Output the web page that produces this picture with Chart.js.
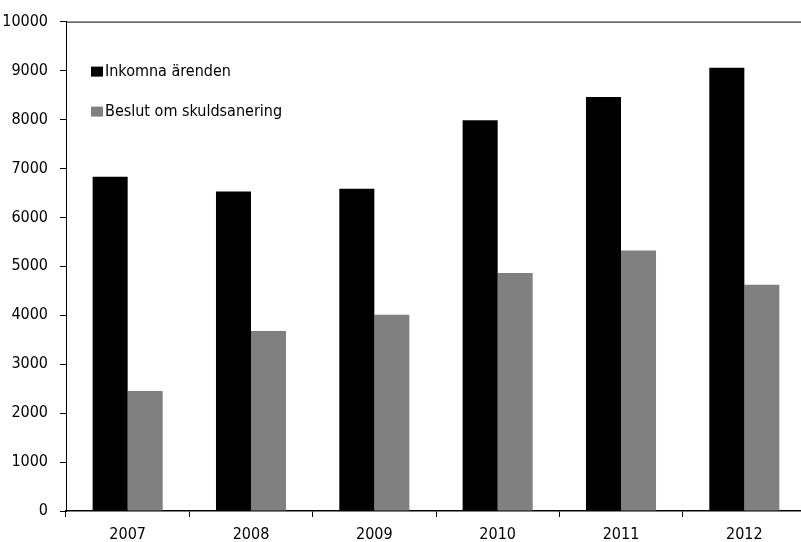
<!DOCTYPE html>
<html>
<head>
<meta charset="utf-8">
<script src="https://cdn.jsdelivr.net/npm/chart.js@4/dist/chart.umd.min.js"></script>
<style>
  html, body { margin: 0; padding: 0; background: #fff; overflow: hidden; }
  #wrap { width: 806px; height: 542px; }
</style>
</head>
<body>
<div id="wrap"><canvas id="chart" width="806" height="542"></canvas></div>
<script>
const years = ['2007', '2008', '2009', '2010', '2011', '2012'];
const inkomna = [6830, 6530, 6585, 7985, 8460, 9055];
const beslut = [2450, 3680, 4010, 4865, 5325, 4625];
const seriesNames = ['Inkomna ärenden', 'Beslut om skuldsanering'];
const seriesColors = ['#000000', '#808080'];

const FONT = '"Liberation Sans Narrow", "DejaVu Sans Condensed", "Arial Narrow", sans-serif';
Chart.defaults.font.family = FONT;
Chart.defaults.font.size = 16;
Chart.defaults.color = '#000';

// legend drawn inside the plot, top-left, stacked
const innerLegend = {
    id: 'innerLegend',
    afterDraw(chart) {
        const ctx = chart.ctx;
        const area = chart.chartArea;
        ctx.save();
        ctx.font = '16px ' + FONT;
        ctx.textBaseline = 'middle';
        chart.data.datasets.forEach((ds, i) => {
            const y = area.top + 50 + i * 40;
            ctx.fillStyle = ds.backgroundColor;
            ctx.fillRect(area.left + 25, y - 5, 12, 10);
            ctx.fillStyle = '#000';
            ctx.fillText(ds.label, area.left + 39, y);
        });
        ctx.restore();
    }
};

// top border of the plot area
const topBorder = {
    id: 'topBorder',
    afterDraw(chart) {
        const ctx = chart.ctx;
        const area = chart.chartArea;
        ctx.save();
        ctx.strokeStyle = '#000';
        ctx.lineWidth = 1;
        ctx.beginPath();
        ctx.moveTo(area.left, area.top + 0.5);
        ctx.lineTo(area.right, area.top + 0.5);
        ctx.stroke();
        ctx.restore();
    }
};

new Chart(document.getElementById('chart'), {
    type: 'bar',
    data: {
        labels: years,
        datasets: [
            { label: seriesNames[0], data: inkomna, backgroundColor: seriesColors[0] },
            { label: seriesNames[1], data: beslut, backgroundColor: seriesColors[1] }
        ]
    },
    options: {
        responsive: false,
        animation: false,
        layout: { padding: { top: 20, right: 0, left: 0, bottom: 0 } },
        datasets: {
            bar: { categoryPercentage: 0.568, barPercentage: 1.0, borderWidth: 0 }
        },
        plugins: {
            legend: { display: false },
            tooltip: { enabled: false }
        },
        scales: {
            x: {
                grid: {
                    display: true, drawOnChartArea: false, drawTicks: true,
                    tickLength: 6, color: '#000', offset: true
                },
                border: { display: true, color: '#000', width: 1.5 },
                ticks: { padding: 8, font: { size: 16 }, color: '#000' },
                afterFit(scale) { scale.height = 31; }
            },
            y: {
                min: 0,
                max: 10000,
                grid: {
                    display: true, drawOnChartArea: false, drawTicks: true,
                    tickLength: 6, color: '#000'
                },
                border: { display: true, color: '#000', width: 1 },
                ticks: {
                    stepSize: 1000, padding: 12, font: { size: 16 }, color: '#000',
                    callback: (v) => String(v)
                },
                afterFit(scale) { scale.width = 66; }
            }
        }
    },
    plugins: [innerLegend, topBorder]
});
</script>
</body>
</html>
